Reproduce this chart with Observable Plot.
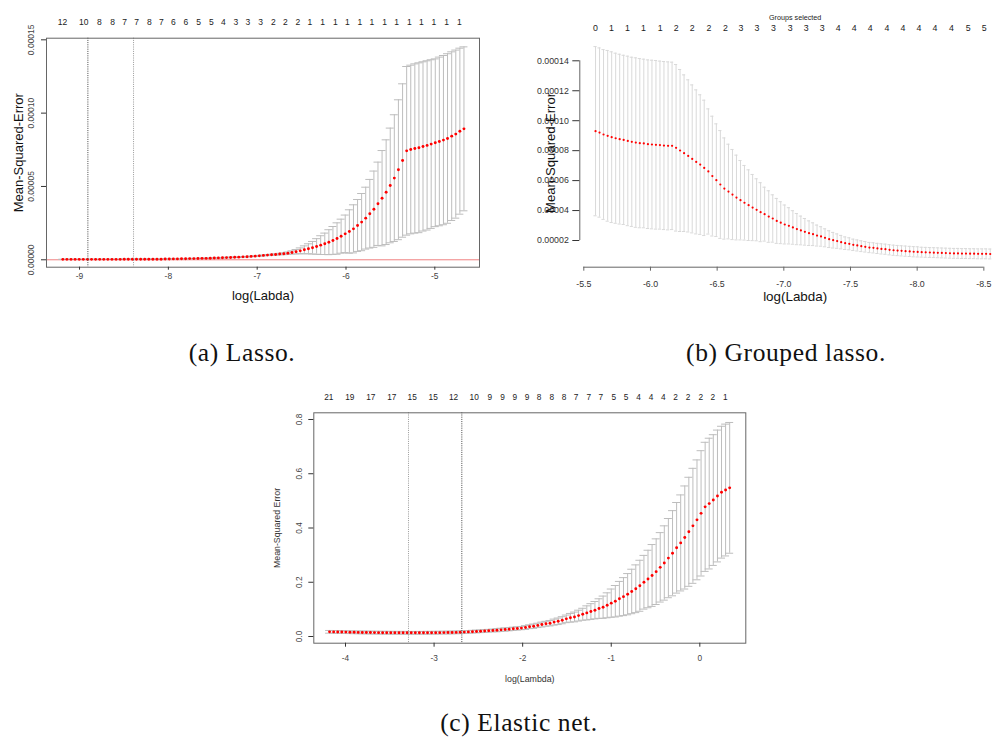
<!DOCTYPE html>
<html><head><meta charset="utf-8">
<script src="https://cdn.jsdelivr.net/npm/d3@7"></script>
<script src="https://cdn.jsdelivr.net/npm/@observablehq/plot@0.6"></script>
<style>
body{margin:0;background:#fff;}
#fig{position:relative;width:992px;height:738px;overflow:hidden;background:#fff;}
.panel{position:absolute;}
.cap{position:absolute;font-family:"Liberation Serif","Times New Roman",serif;font-size:25.5px;letter-spacing:0.6px;color:#111;white-space:nowrap;transform:translateX(-50%);line-height:1;}
</style></head><body><div id="fig">
<div class="panel" id="pa" style="left:0;top:0;width:490px;height:310px"></div>
<div class="panel" id="pb" style="left:500px;top:0;width:520px;height:310px"></div>
<div class="panel" id="pc" style="left:260px;top:380px;width:500px;height:320px"></div>
<div class="cap" style="left:242px;top:340px">(a) Lasso.</div>
<div class="cap" style="left:786px;top:340px">(b) Grouped lasso.</div>
<div class="cap" style="left:519px;top:710px">(c) Elastic net.</div>
</div>
<script>
// ---------- (a) Lasso: MSE and SD in units of 1e-5 ----------
const lassoLogLambda = [-9.188,-9.142,-9.096,-9.050,-9.004,-8.958,-8.911,-8.865,-8.819,-8.773,-8.727,-8.681,-8.635,-8.589,-8.543,-8.497,-8.451,-8.405,-8.359,-8.312,-8.266,-8.220,-8.174,-8.128,-8.082,-8.036,-7.990,-7.944,-7.898,-7.852,-7.806,-7.760,-7.713,-7.667,-7.621,-7.575,-7.529,-7.483,-7.437,-7.391,-7.345,-7.299,-7.253,-7.207,-7.160,-7.114,-7.068,-7.022,-6.976,-6.930,-6.884,-6.838,-6.792,-6.746,-6.700,-6.654,-6.608,-6.562,-6.515,-6.469,-6.423,-6.377,-6.331,-6.285,-6.239,-6.193,-6.147,-6.101,-6.055,-6.009,-5.962,-5.916,-5.870,-5.824,-5.778,-5.732,-5.686,-5.640,-5.594,-5.548,-5.502,-5.456,-5.410,-5.363,-5.317,-5.271,-5.225,-5.179,-5.133,-5.087,-5.041,-4.995,-4.949,-4.903,-4.857,-4.810,-4.764,-4.718,-4.672];
const lassoMse = [0.03,0.03,0.03,0.03,0.03,0.03,0.03,0.03,0.03,0.03,0.03,0.03,0.03,0.03,0.03,0.04,0.04,0.04,0.04,0.04,0.04,0.04,0.04,0.04,0.04,0.05,0.05,0.06,0.06,0.07,0.07,0.08,0.08,0.09,0.10,0.10,0.11,0.12,0.13,0.14,0.15,0.16,0.17,0.18,0.20,0.21,0.23,0.25,0.27,0.30,0.32,0.34,0.36,0.39,0.41,0.45,0.50,0.55,0.61,0.68,0.75,0.82,0.91,1.00,1.09,1.20,1.32,1.45,1.61,1.77,1.93,2.11,2.34,2.57,2.84,3.14,3.45,3.82,4.20,4.61,5.07,5.57,6.14,6.77,7.43,7.52,7.59,7.64,7.73,7.80,7.89,7.98,8.07,8.16,8.27,8.43,8.57,8.77,8.93];
const lassoSd = [0.01,0.01,0.01,0.01,0.01,0.01,0.01,0.01,0.01,0.01,0.01,0.01,0.01,0.01,0.01,0.01,0.01,0.01,0.01,0.01,0.01,0.015,0.015,0.015,0.015,0.015,0.015,0.015,0.015,0.015,0.015,0.015,0.015,0.015,0.015,0.015,0.02,0.02,0.02,0.02,0.02,0.02,0.02,0.02,0.02,0.02,0.02,0.025,0.03,0.03,0.035,0.04,0.045,0.05,0.06,0.08,0.11,0.15,0.20,0.27,0.34,0.43,0.53,0.64,0.73,0.85,0.95,1.07,1.16,1.28,1.48,1.64,1.77,1.95,2.11,2.34,2.60,2.84,3.25,3.57,3.91,4.32,4.77,5.23,5.75,5.75,5.77,5.79,5.77,5.77,5.75,5.72,5.75,5.77,5.78,5.75,5.73,5.66,5.59];
const lassoTopAt = [-9.191,-8.952,-8.778,-8.628,-8.493,-8.358,-8.215,-8.080,-7.945,-7.803,-7.660,-7.517,-7.382,-7.240,-7.105,-6.962,-6.819,-6.684,-6.542,-6.407,-6.264,-6.121,-5.985,-5.843,-5.708,-5.565,-5.430,-5.287,-5.152,-5.010,-4.867,-4.724];
const lassoTopLabels = ["12","10","8","8","7","7","8","7","6","6","5","5","4","3","3","3","2","2","2","1","1","1","1","1","1","1","1","1","1","1","1","1"];
const lassoVLines = [-8.906, -8.392];
const lassoXTicks = [-9,-8,-7,-6,-5];
const lassoYTicks = [0,5,10,15];

// ---------- (b) Grouped lasso: MSE and SD in units of 1e-5 ----------
const grpLogLambda = [-5.588,-5.618,-5.648,-5.679,-5.709,-5.739,-5.769,-5.799,-5.830,-5.860,-5.890,-5.920,-5.950,-5.981,-6.011,-6.041,-6.071,-6.101,-6.132,-6.162,-6.192,-6.222,-6.252,-6.283,-6.313,-6.343,-6.373,-6.403,-6.434,-6.464,-6.494,-6.524,-6.554,-6.585,-6.615,-6.645,-6.675,-6.705,-6.736,-6.766,-6.796,-6.826,-6.856,-6.887,-6.917,-6.947,-6.977,-7.007,-7.038,-7.068,-7.098,-7.128,-7.158,-7.189,-7.219,-7.249,-7.279,-7.309,-7.340,-7.370,-7.400,-7.430,-7.460,-7.491,-7.521,-7.551,-7.581,-7.611,-7.642,-7.672,-7.702,-7.732,-7.762,-7.793,-7.823,-7.853,-7.883,-7.913,-7.944,-7.974,-8.004,-8.034,-8.064,-8.095,-8.125,-8.155,-8.185,-8.215,-8.246,-8.276,-8.306,-8.336,-8.366,-8.397,-8.427,-8.457,-8.487,-8.517,-8.548,-8.578];
const grpMse = [9.30,9.21,9.08,8.99,8.90,8.83,8.77,8.72,8.65,8.59,8.54,8.50,8.48,8.43,8.41,8.39,8.37,8.34,8.32,8.32,8.19,8.01,7.83,7.65,7.45,7.25,7.07,6.85,6.61,6.30,6.03,5.74,5.47,5.27,5.07,4.87,4.69,4.52,4.36,4.20,4.05,3.89,3.76,3.60,3.47,3.31,3.19,3.07,2.98,2.87,2.76,2.67,2.58,2.49,2.42,2.33,2.27,2.18,2.09,2.02,1.96,1.89,1.82,1.78,1.71,1.67,1.62,1.58,1.53,1.51,1.47,1.44,1.42,1.38,1.35,1.33,1.31,1.29,1.27,1.25,1.24,1.22,1.21,1.20,1.19,1.18,1.17,1.16,1.15,1.14,1.14,1.13,1.13,1.12,1.12,1.11,1.11,1.11,1.10,1.10];
const grpSd = [5.65,5.65,5.67,5.70,5.70,5.68,5.67,5.65,5.66,5.65,5.66,5.65,5.63,5.63,5.63,5.63,5.61,5.61,5.61,5.59,5.56,5.41,5.23,5.08,4.94,4.81,4.66,4.52,4.18,4.00,3.76,3.60,3.38,3.16,3.01,2.83,2.65,2.49,2.36,2.21,2.07,1.97,1.80,1.72,1.58,1.50,1.40,1.30,1.21,1.12,1.04,0.96,0.89,0.82,0.76,0.70,0.65,0.60,0.56,0.52,0.48,0.45,0.42,0.40,0.38,0.37,0.36,0.35,0.34,0.34,0.34,0.34,0.34,0.34,0.34,0.34,0.34,0.34,0.34,0.34,0.34,0.33,0.33,0.33,0.33,0.33,0.33,0.33,0.33,0.33,0.33,0.33,0.33,0.33,0.33,0.33,0.33,0.33,0.33,0.33];
const grpTopAt = [-5.588,-5.708,-5.828,-5.948,-6.073,-6.193,-6.313,-6.438,-6.563,-6.678,-6.798,-6.923,-7.048,-7.168,-7.288,-7.408,-7.528,-7.648,-7.773,-7.893,-8.013,-8.133,-8.258,-8.383,-8.503];
const grpTopLabels = ["0","1","1","1","1","2","2","2","2","3","3","3","3","3","3","4","4","4","4","4","4","4","4","5","5"];
const grpXTicks = [-5.5,-6,-6.5,-7,-7.5,-8,-8.5];
const grpYTicks = [2,4,6,8,10,12,14];

// ---------- (c) Elastic net ----------
const enetLogLambda = [-4.180,-4.134,-4.088,-4.042,-3.996,-3.950,-3.903,-3.857,-3.811,-3.765,-3.719,-3.673,-3.627,-3.581,-3.535,-3.489,-3.443,-3.396,-3.350,-3.304,-3.258,-3.212,-3.166,-3.120,-3.074,-3.028,-2.982,-2.936,-2.889,-2.843,-2.797,-2.751,-2.705,-2.659,-2.613,-2.567,-2.521,-2.475,-2.429,-2.383,-2.336,-2.290,-2.244,-2.198,-2.152,-2.106,-2.060,-2.014,-1.968,-1.922,-1.876,-1.829,-1.783,-1.737,-1.691,-1.645,-1.599,-1.553,-1.507,-1.461,-1.415,-1.369,-1.322,-1.276,-1.230,-1.184,-1.138,-1.092,-1.046,-1.000,-0.954,-0.908,-0.862,-0.815,-0.769,-0.723,-0.677,-0.631,-0.585,-0.539,-0.493,-0.447,-0.401,-0.355,-0.308,-0.262,-0.216,-0.170,-0.124,-0.078,-0.032,0.014,0.060,0.106,0.152,0.199,0.245,0.291,0.337];
const enetMse = [0.0172,0.0170,0.0168,0.0165,0.0162,0.0158,0.0155,0.0152,0.0150,0.0148,0.0146,0.0144,0.0142,0.0141,0.0140,0.0139,0.0138,0.0137,0.0137,0.0136,0.0136,0.0136,0.0136,0.0137,0.0138,0.0139,0.0140,0.0142,0.0144,0.0146,0.0148,0.0152,0.0157,0.0163,0.0170,0.0177,0.0185,0.0193,0.0202,0.0212,0.0222,0.0233,0.0245,0.0257,0.0270,0.0284,0.0297,0.031,0.033,0.036,0.038,0.041,0.044,0.047,0.049,0.053,0.056,0.060,0.065,0.069,0.072,0.077,0.082,0.087,0.092,0.097,0.103,0.108,0.115,0.123,0.130,0.139,0.147,0.156,0.166,0.176,0.187,0.200,0.212,0.225,0.239,0.255,0.271,0.289,0.307,0.327,0.345,0.365,0.386,0.408,0.430,0.454,0.478,0.490,0.503,0.518,0.532,0.540,0.548];
const enetSd = [0.005,0.005,0.005,0.005,0.005,0.005,0.005,0.005,0.005,0.005,0.005,0.005,0.005,0.005,0.005,0.005,0.005,0.005,0.005,0.005,0.005,0.005,0.005,0.005,0.005,0.005,0.005,0.005,0.005,0.005,0.005,0.005,0.005,0.005,0.005,0.005,0.005,0.005,0.005,0.005,0.005,0.006,0.006,0.006,0.006,0.006,0.006,0.006,0.007,0.007,0.008,0.008,0.009,0.009,0.010,0.011,0.012,0.013,0.014,0.016,0.018,0.020,0.022,0.026,0.029,0.032,0.036,0.041,0.046,0.052,0.058,0.064,0.070,0.076,0.082,0.088,0.094,0.099,0.106,0.114,0.121,0.128,0.137,0.146,0.157,0.167,0.177,0.190,0.201,0.212,0.221,0.231,0.238,0.241,0.241,0.243,0.243,0.243,0.241];
const enetTopAt = [-4.188,-3.951,-3.714,-3.477,-3.247,-3.010,-2.781,-2.547,-2.371,-2.228,-2.089,-1.949,-1.814,-1.672,-1.532,-1.396,-1.254,-1.118,-0.972,-0.832,-0.693,-0.550,-0.411,-0.275,-0.132,0.010,0.146,0.289];
const enetTopLabels = ["21","19","17","17","15","15","12","10","9","9","9","9","8","8","8","7","7","7","5","5","4","4","4","2","2","2","2","1"];
const enetVLines = [-3.289, -2.687];
const enetXTicks = [-4,-3,-2,-1,0];
const enetYTicks = [0,0.2,0.4,0.6,0.8];

// ---------- helpers ----------
const FONT = "'Liberation Sans', Arial, sans-serif";
function rows(xs, ms, sds) {
  return xs.map((x, i) => ({x, m: ms[i], lo: ms[i] - sds[i], hi: ms[i] + sds[i]}));
}
function tops(at, labels) { return at.map((a, i) => ({at: a, label: labels[i]})); }
function errorBars(data, cap, color) {
  return [
    Plot.ruleX(data, {x: "x", y1: "lo", y2: "hi", stroke: color}),
    Plot.ruleY(data, {y: "hi", x1: d => d.x - cap, x2: d => d.x + cap, stroke: color}),
    Plot.ruleY(data, {y: "lo", x1: d => d.x - cap, x2: d => d.x + cap, stroke: color})
  ];
}
const e5 = d => (d * 1e-5).toFixed(5);
const C = {textAnchor: "middle", lineAnchor: "middle"};

// ---------- (a) ----------
const dA = rows(lassoLogLambda, lassoMse, lassoSd);
document.getElementById("pa").append(Plot.plot({
  width: 490, height: 310,
  marginLeft: 46, marginRight: 11, marginTop: 37.7, marginBottom: 43.3,
  x: {domain: [-9.372, -4.497]},
  y: {domain: [-0.505, 15.11]},
  style: {fontFamily: FONT, fontSize: "8.5px", color: "#333", background: "transparent", maxWidth: "none", overflow: "visible"},
  marks: [
    Plot.ruleY([0], {stroke: "#f08080"}),
    ...errorBars(dA, 0.045, "#bdbdbd"),
    Plot.dot(dA, {x: "x", y: "m", r: 1.45, fill: "red"}),
    Plot.ruleX(lassoVLines, {x: d => d, stroke: (d, i) => i === 0 ? "#444" : "#999", strokeDasharray: "1,1.2"}),
    Plot.frame({stroke: "#666"}),
    Plot.axisX({ticks: lassoXTicks, tickSize: 3, tickPadding: 3, tickFormat: d => String(d), label: null, fill: "#444"}),
    Plot.axisY({ticks: lassoYTicks, tickSize: 5, tickFormat: () => "", label: null}),
    Plot.text(lassoYTicks, {...C, y: d => d, text: e5, frameAnchor: "left", rotate: -90, dx: -15, fill: "#444"}),
    Plot.text(tops(lassoTopAt, lassoTopLabels), {...C, x: "at", text: "label", frameAnchor: "top", dy: -15.7, fill: "#222"}),
    Plot.text(["log(Labda)"], {...C, text: d => d, frameAnchor: "bottom", dy: 29, fontSize: 13, fill: "#111"}),
    Plot.text(["Mean-Squared-Error"], {...C, text: d => d, frameAnchor: "left", rotate: -90, dx: -28, fontSize: 13, fill: "#111"})
  ]
}));

// ---------- (b) ----------
const dB = rows(grpLogLambda, grpMse, grpSd);
document.getElementById("pb").append(Plot.plot({
  width: 520, height: 310,
  marginLeft: 79.3, marginRight: 10, marginTop: 38.3, marginBottom: 43.3,
  x: {domain: [-5.47, -8.70]},
  y: {domain: [0.217, 15.47]},
  style: {fontFamily: FONT, fontSize: "8.8px", color: "#333", background: "transparent", maxWidth: "none", overflow: "visible"},
  marks: [
    ...errorBars(dB, 0.012, "#d9d9d9"),
    Plot.dot(dB, {x: "x", y: "m", r: 1.1, fill: "red"}),
    Plot.ruleY([0.217], {x1: grpXTicks[0], x2: grpXTicks[grpXTicks.length - 1], stroke: "#666"}),
    Plot.ruleX([-5.47], {y1: grpYTicks[0], y2: grpYTicks[grpYTicks.length - 1], stroke: "#666"}),
    Plot.axisX({ticks: grpXTicks, tickSize: 4, tickPadding: 10, tickFormat: d => d.toFixed(1), label: null, stroke: "#666"}),
    Plot.axisY({ticks: grpYTicks, tickSize: 7, tickPadding: 4, tickFormat: e5, label: null}),
    Plot.text(tops(grpTopAt, grpTopLabels), {...C, x: "at", text: "label", frameAnchor: "top", dy: -10.3, fill: "#222"}),
    Plot.text(["Groups selected"], {...C, text: d => d, frameAnchor: "top", dy: -21.6, fontSize: 7.2, fill: "#222"}),
    Plot.text(["log(Labda)"], {...C, text: d => d, frameAnchor: "bottom", dy: 29.5, fontSize: 13.4, fill: "#111"}),
    Plot.text(["Mean-Squared-Error"], {...C, text: d => d, frameAnchor: "left", rotate: -90, dx: -29.3, fontSize: 13.1, fill: "#111"})
  ]
}));

// ---------- (c) ----------
const dC = rows(enetLogLambda, enetMse, enetSd);
document.getElementById("pc").append(Plot.plot({
  width: 500, height: 320,
  marginLeft: 53.3, marginRight: 14.7, marginTop: 32.3, marginBottom: 57.3,
  x: {domain: [-4.358, 0.519]},
  y: {domain: [-0.0247, 0.8247]},
  style: {fontFamily: FONT, fontSize: "8.3px", color: "#333", background: "transparent", maxWidth: "none", overflow: "visible"},
  marks: [
    ...errorBars(dC, 0.045, "#bdbdbd"),
    Plot.dot(dC, {x: "x", y: "m", r: 1.45, fill: "red"}),
    Plot.ruleX(enetVLines, {x: d => d, stroke: (d, i) => i === 0 ? "#999" : "#444", strokeDasharray: "1,1.2"}),
    Plot.frame({stroke: "#666"}),
    Plot.axisX({ticks: enetXTicks, tickSize: 4, tickPadding: 8, tickFormat: d => String(d), label: null, fill: "#444"}),
    Plot.axisY({ticks: enetYTicks, tickSize: 5, tickFormat: () => "", label: null}),
    Plot.text(enetYTicks, {...C, y: d => d, text: d => d.toFixed(1), frameAnchor: "left", rotate: -90, dx: -14.6, fill: "#444"}),
    Plot.text(tops(enetTopAt, enetTopLabels), {...C, x: "at", text: "label", frameAnchor: "top", dy: -15.6, fill: "#222"}),
    Plot.text(["log(Lambda)"], {...C, text: d => d, frameAnchor: "bottom", dy: 36.3, fontSize: 8.8, fill: "#333"}),
    Plot.text(["Mean-Squared Error"], {...C, text: d => d, frameAnchor: "left", rotate: -90, dx: -36.6, fontSize: 8.8, fill: "#333"})
  ]
}));
</script></body></html>
